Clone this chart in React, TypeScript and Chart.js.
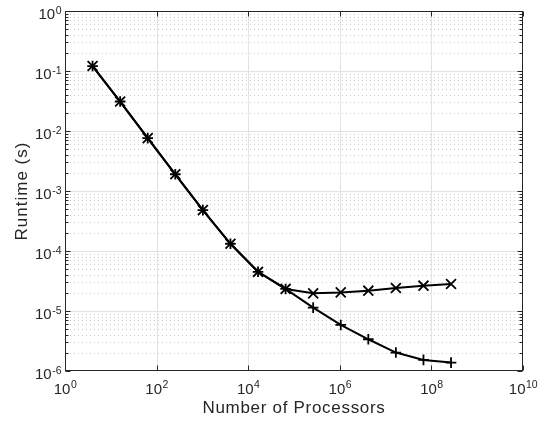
import React, { useEffect, useRef } from 'react';
import { Chart, registerables } from 'chart.js';

Chart.register(...registerables);

const processors = [4, 16, 64, 256, 1024, 4096, 16384, 65536, 262144, 1048576, 4194304, 16777216, 67108864, 268435456];
const runtimeCrossSeries = [0.121, 0.031, 0.0076, 0.0019, 4.8e-4, 1.32e-4, 4.5e-5, 2.33e-5, 1.97e-5, 2.04e-5, 2.18e-5, 2.42e-5, 2.64e-5, 2.82e-5];
const runtimePlusSeries = [0.121, 0.031, 0.0076, 0.0019, 4.8e-4, 1.32e-4, 4.5e-5, 2.33e-5, 1.14e-5, 5.85e-6, 3.38e-6, 2.03e-6, 1.53e-6, 1.38e-6];
const xTickExponents = [0, 2, 4, 6, 8, 10];
const yTickExponents = [0, -1, -2, -3, -4, -5, -6];
const xTitle = 'Number of Processors';
const yTitle = 'Runtime (s)';

const FONT = '"Liberation Sans", Arial, Helvetica, sans-serif';
const AXIS_COLOR = '#262626';

function drawPow(ctx: CanvasRenderingContext2D, exp: number, x: number, baseline: number, align: 'center' | 'right') {
  const base = '10';
  const sup = String(exp);
  ctx.font = `15px ${FONT}`;
  const wb = ctx.measureText(base).width;
  ctx.font = `10.5px ${FONT}`;
  const ws = ctx.measureText(sup).width;
  const total = wb + ws;
  const start = align === 'center' ? x - total / 2 : x - total;
  ctx.textAlign = 'left';
  ctx.textBaseline = 'alphabetic';
  ctx.fillStyle = AXIS_COLOR;
  ctx.font = `15px ${FONT}`;
  ctx.fillText(base, start, baseline);
  ctx.font = `10.5px ${FONT}`;
  ctx.fillText(sup, start + wb + 0.5, baseline - 5.5);
}

const matlabFrame = {
  id: 'matlabFrame',
  beforeDraw(chart: any) {
    const ctx: CanvasRenderingContext2D = chart.ctx;
    ctx.save();
    ctx.fillStyle = '#ffffff';
    ctx.fillRect(0, 0, chart.width, chart.height);
    ctx.restore();
  },
  beforeDatasetsDraw(chart: any) {
    const ctx: CanvasRenderingContext2D = chart.ctx;
    const a = chart.chartArea;
    const xs = chart.scales.x;
    const ys = chart.scales.y;
    ctx.save();
    ctx.lineWidth = 1;
    ctx.strokeStyle = '#cdcdcd';
    ctx.setLineDash([1, 3]);
    for (let e = -6; e < 0; e++) {
      for (let m = 2; m <= 9; m++) {
        const py = Math.round(ys.getPixelForValue(m * Math.pow(10, e))) + 0.5;
        ctx.beginPath();
        ctx.moveTo(a.left + 1, py);
        ctx.lineTo(a.right - 1, py);
        ctx.stroke();
      }
    }
    ctx.setLineDash([]);
    ctx.strokeStyle = '#e2e2e2';
    for (const e of yTickExponents) {
      const py = Math.round(ys.getPixelForValue(Math.pow(10, e))) + 0.5;
      if (py < a.top + 1 || py > a.bottom - 1) continue;
      ctx.beginPath();
      ctx.moveTo(a.left, py);
      ctx.lineTo(a.right, py);
      ctx.stroke();
    }
    for (const e of xTickExponents) {
      const px = Math.round(xs.getPixelForValue(Math.pow(10, e))) + 0.5;
      if (px < a.left + 1 || px > a.right - 1) continue;
      ctx.beginPath();
      ctx.moveTo(px, a.top);
      ctx.lineTo(px, a.bottom);
      ctx.stroke();
    }
    ctx.restore();
  },
  afterDatasetsDraw(chart: any) {
    const ctx: CanvasRenderingContext2D = chart.ctx;
    const a = chart.chartArea;
    const xs = chart.scales.x;
    const ys = chart.scales.y;
    ctx.save();
    ctx.strokeStyle = AXIS_COLOR;
    ctx.lineWidth = 1;
    const L = Math.round(a.left) + 0.5;
    const R = Math.round(a.right) - 0.5;
    const T = Math.round(a.top) + 0.5;
    const B = Math.round(a.bottom) - 0.5;
    ctx.strokeRect(L, T, R - L, B - T);
    ctx.beginPath();
    for (let e = -6; e <= 0; e++) {
      const py = Math.round(ys.getPixelForValue(Math.pow(10, e))) + 0.5;
      ctx.moveTo(L, py); ctx.lineTo(L + 5, py);
      ctx.moveTo(R, py); ctx.lineTo(R - 5, py);
      if (e < 0) {
        for (let m = 2; m <= 9; m++) {
          const q = Math.round(ys.getPixelForValue(m * Math.pow(10, e))) + 0.5;
          ctx.moveTo(L, q); ctx.lineTo(L + 3, q);
          ctx.moveTo(R, q); ctx.lineTo(R - 3, q);
        }
      }
    }
    for (const e of xTickExponents) {
      const px = Math.round(xs.getPixelForValue(Math.pow(10, e))) + 0.5;
      ctx.moveTo(px, B); ctx.lineTo(px, B - 5);
      ctx.moveTo(px, T); ctx.lineTo(px, T + 5);
    }
    ctx.stroke();

    for (const e of xTickExponents) {
      const px = xs.getPixelForValue(Math.pow(10, e));
      drawPow(ctx, e, px, a.bottom + 22.5, 'center');
    }
    for (const e of yTickExponents) {
      const py = ys.getPixelForValue(Math.pow(10, e));
      drawPow(ctx, e, a.left - 4, py + 8, 'right');
    }

    ctx.fillStyle = AXIS_COLOR;
    ctx.font = `17px ${FONT}`;
    (ctx as any).letterSpacing = '0.7px';
    ctx.textAlign = 'center';
    ctx.textBaseline = 'alphabetic';
    ctx.fillText(xTitle, (a.left + a.right) / 2, a.bottom + 42);
    ctx.translate(27, (a.top + a.bottom) / 2);
    ctx.rotate(-Math.PI / 2);
    (ctx as any).letterSpacing = '1px';
    ctx.fillText(yTitle, 0, 0);
    ctx.restore();
  },
};

export default function App() {
  const canvasRef = useRef<HTMLCanvasElement | null>(null);

  useEffect(() => {
    document.body.style.margin = '0';
    const canvas = canvasRef.current;
    if (!canvas) return;
    const chart = new Chart(canvas, {
      type: 'line',
      data: {
        datasets: [
          {
            data: processors.map((p, i) => ({ x: p, y: runtimeCrossSeries[i] })),
            borderColor: '#000000',
            backgroundColor: '#000000',
            borderWidth: 2,
            pointStyle: 'crossRot',
            pointRadius: 7,
            pointBorderWidth: 1.8,
            pointBorderColor: '#000000',
            tension: 0,
            fill: false,
          },
          {
            data: processors.map((p, i) => ({ x: p, y: runtimePlusSeries[i] })),
            borderColor: '#000000',
            backgroundColor: '#000000',
            borderWidth: 2,
            pointStyle: 'cross',
            pointRadius: 5.3,
            pointBorderWidth: 1.8,
            pointBorderColor: '#000000',
            tension: 0,
            fill: false,
          },
        ],
      },
      options: {
        animation: false,
        responsive: false,
        devicePixelRatio: 1,
        events: [],
        layout: { padding: { left: 65, right: 16, top: 11, bottom: 52 } },
        plugins: {
          legend: { display: false },
          tooltip: { enabled: false },
        },
        scales: {
          x: { type: 'logarithmic', min: 1, max: 1e10, display: false },
          y: { type: 'logarithmic', min: 1e-6, max: 1, display: false },
        },
      },
      plugins: [matlabFrame],
    });
    return () => chart.destroy();
  }, []);

  return <canvas ref={canvasRef} width={539} height={423} style={{ display: 'block' }} />;
}
